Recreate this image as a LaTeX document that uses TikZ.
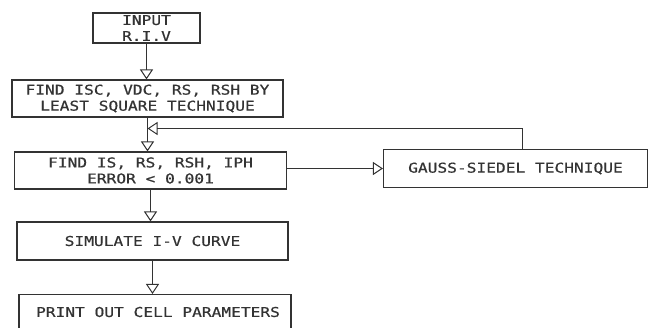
\documentclass[tikz,border=0pt]{standalone}
\usepackage{fontspec}
\newfontfamily\plotfont[FakeStretch=1.2, FakeBold=0.6]{DejaVu Sans Mono}
\usetikzlibrary{arrows.meta}
\definecolor{ink}{HTML}{333333}
\tikzset{
  label/.style={inner sep=0pt, align=center, text=ink,
    font=\plotfont\fontsize{13.5}{16}\selectfont},
  box/.style={label, draw=ink, line width=1.1pt, rectangle},
  flow/.style={draw=ink, line width=1.1pt, -{Triangle[open, width=13pt, length=10pt, line width=1pt]}},
}
\begin{document}
\begin{tikzpicture}[x=1pt, y=-1pt]
\useasboundingbox (0,0) rectangle (649,328);
\clip (0,0) rectangle (649,328);
\node[box, minimum width=107pt, minimum height=30pt] (input) at (146.5,28) {INPUT\\R.I.V};
\node[box, minimum width=271pt, minimum height=37pt] (lsq) at (147.5,98.5) {FIND ISC, VDC, RS, RSH BY\\LEAST SQUARE TECHNIQUE};
\node[box, minimum width=272pt, minimum height=37pt] (find) at (150.5,170.5) {FIND IS, RS, RSH, IPH\\ERROR < 0.001};
\node[box, minimum width=271pt, minimum height=38pt] (sim) at (152.5,241) {SIMULATE I-V CURVE};
\node[box, minimum width=272pt, minimum height=42pt, anchor=north] (print) at (155,294) {};
\node[label] (printtext) at (158,312) {PRINT OUT CELL PARAMETERS};
\node[box, minimum width=264pt, minimum height=38pt] (gauss) at (515.5,168.5) {GAUSS-SIEDEL TECHNIQUE};
\coordinate (fbtop) at (522.5,128.5);
\coordinate (fbend) at (147.5,128.5);
\coordinate (gtop) at (522.5,149.5);
\draw[flow] (input.south) -- (input.south |- lsq.north);
\draw[flow] (lsq.south) -- (lsq.south |- find.north);
\draw[flow] (find.south) -- (find.south |- sim.north);
\draw[flow] (sim.south) -- (sim.south |- print.north);
\draw[flow] (find.east |- gauss.west) -- (gauss.west);
\draw[flow] (gtop) -- (fbtop) -- (fbend);
\end{tikzpicture}
\end{document}
